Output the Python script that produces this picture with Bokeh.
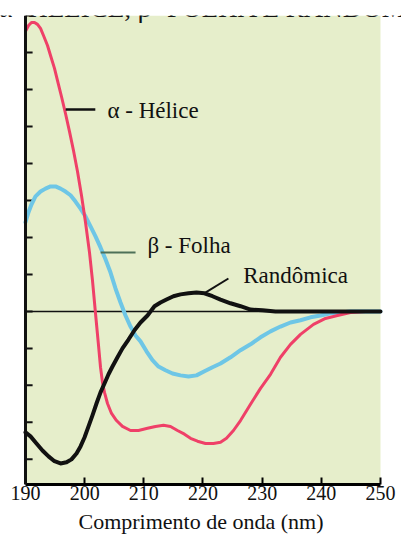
from bokeh.plotting import figure
from bokeh.models import Range1d, FixedTicker, Label, Span, BoxAnnotation
from bokeh.embed import file_html
from bokeh.resources import INLINE

# Circular dichroism spectra of the three secondary structures (wavelength in nm)
helix_wl = [190.00, 190.51, 191.01, 191.52, 192.03, 192.54, 193.04, 193.72, 194.23, 194.90,
            195.41, 196.08, 196.76, 197.44, 198.11, 198.79, 199.46, 200.14, 200.82, 201.32,
            201.83, 202.34, 202.68, 203.01, 203.35, 203.86, 204.54, 205.38, 206.39, 207.75,
            209.10, 210.62, 211.97, 213.32, 214.51, 215.69, 216.87, 217.89, 219.07, 220.42,
            221.77, 222.96, 223.97, 225.15, 226.34, 228.03, 229.72, 231.41, 233.10, 234.79,
            236.48, 238.68, 240.70, 242.73, 244.93, 247.46, 250.00]
helix_cd = [7.57, 7.73, 7.81, 7.81, 7.76, 7.65, 7.46, 7.19, 6.92, 6.57,
            6.24, 5.81, 5.35, 4.86, 4.35, 3.78, 3.14, 2.41, 1.59, 0.84,
            -0.05, -0.92, -1.51, -1.92, -2.19, -2.49, -2.76, -2.95, -3.11, -3.22,
            -3.22, -3.16, -3.11, -3.08, -3.11, -3.22, -3.32, -3.43, -3.51, -3.57,
            -3.57, -3.54, -3.43, -3.22, -2.95, -2.51, -2.08, -1.70, -1.24, -0.89,
            -0.62, -0.35, -0.19, -0.11, -0.03, 0.00, 0.00]

sheet_wl = [190.00, 190.51, 191.01, 191.69, 192.54, 193.38, 194.23, 195.07, 195.92, 196.76,
            197.61, 198.45, 199.30, 200.14, 200.99, 201.83, 202.68, 203.52, 204.37, 205.21,
            206.06, 206.90, 207.75, 208.59, 209.44, 210.45, 211.46, 212.48, 213.66, 214.85,
            216.20, 217.55, 218.90, 220.25, 221.61, 222.96, 224.65, 226.34, 228.03, 229.72,
            231.41, 233.10, 234.79, 236.48, 238.17, 239.86, 241.55, 243.24, 244.93, 250.00]
sheet_cd = [2.41, 2.68, 2.89, 3.11, 3.24, 3.32, 3.38, 3.38, 3.32, 3.24,
            3.14, 2.97, 2.78, 2.57, 2.30, 2.03, 1.73, 1.41, 1.05, 0.62,
            0.24, -0.11, -0.41, -0.65, -0.81, -1.08, -1.32, -1.49, -1.59, -1.68,
            -1.73, -1.76, -1.73, -1.62, -1.51, -1.41, -1.24, -1.05, -0.89, -0.70,
            -0.54, -0.41, -0.30, -0.24, -0.16, -0.11, -0.05, -0.03, 0.00, 0.00]

coil_wl = [190.00, 190.85, 191.86, 192.87, 193.89, 194.90, 195.92, 196.93, 197.77, 198.62,
           199.30, 199.97, 200.65, 201.32, 202.00, 202.68, 203.35, 204.03, 204.70, 205.55,
           206.39, 207.41, 208.42, 209.44, 210.62, 211.80, 212.82, 213.83, 215.01, 216.20,
           217.55, 218.90, 220.25, 221.61, 222.96, 224.65, 226.34, 228.03, 230.06, 232.25,
           234.79, 250.00]
coil_cd = [-3.27, -3.38, -3.57, -3.76, -3.92, -4.05, -4.11, -4.08, -4.00, -3.84,
           -3.65, -3.41, -3.11, -2.81, -2.49, -2.19, -1.95, -1.70, -1.49, -1.24,
           -1.00, -0.76, -0.51, -0.30, -0.11, 0.14, 0.24, 0.32, 0.41, 0.46,
           0.49, 0.51, 0.49, 0.41, 0.32, 0.22, 0.14, 0.05, 0.03, 0.00,
           0.00, 0.00]

x_ticks = [190, 200, 210, 220, 230, 240, 250]
y_ticks = [-4, -3, -2, -1, 0, 1, 2, 3, 4, 5, 6, 7, 8]

SERIF = "Liberation Serif"
INK = "#111111"
X0, X1 = x_ticks[0], x_ticks[-1]
Y0, Y1 = -4.68, y_ticks[-1]

# the frame spans the full width; the tinted panel covers only 190-250 nm
p = figure(width=401, height=537, output_backend="svg", toolbar_location=None,
           x_range=Range1d(185.775, 253.55), y_range=Range1d(Y0, Y1),
           min_border_left=0, min_border_right=0, min_border_top=15,
           min_border_bottom=53)
p.background_fill_color = "white"
p.border_fill_color = "white"
p.outline_line_color = None
p.grid.visible = False
p.add_layout(BoxAnnotation(left=X0, right=X1, bottom=Y0, top=Y1, fill_color="#e6eecb",
                           fill_alpha=1, line_color=None, level="underlay"))

p.xaxis.bounds = (X0, X1)
p.xaxis.ticker = FixedTicker(ticks=x_ticks)
p.xaxis.minor_tick_line_color = None
p.xaxis.major_tick_in = 7
p.xaxis.major_tick_out = 0
p.xaxis.major_tick_line_width = 2
p.xaxis.axis_line_width = 3
p.xaxis.major_label_text_font = SERIF
p.xaxis.major_label_text_font_size = "20px"
p.xaxis.major_label_text_color = INK
p.xaxis.major_label_standoff = 1
p.xaxis.axis_label = "Comprimento de onda (nm)"
p.xaxis.axis_label_text_font = SERIF
p.xaxis.axis_label_text_font_style = "normal"
p.xaxis.axis_label_text_font_size = "22px"
p.xaxis.axis_label_text_color = INK
p.xaxis.axis_label_standoff = 6

# unlabelled ellipticity axis: a heavy line with inward ticks
p.yaxis.visible = False
p.add_layout(Span(location=X0, dimension="height", line_color=INK, line_width=3))
p.segment(x0=[X0] * len(y_ticks), y0=y_ticks, x1=[X0 + 1.2] * len(y_ticks), y1=y_ticks,
          line_color=INK, line_width=2)

# baseline at zero ellipticity
p.segment(x0=[X0], y0=[0], x1=[X1], y1=[0], line_color=INK, line_width=1.5)

p.line(sheet_wl, sheet_cd, line_color="#6ec6e6", line_width=4, line_join="round", line_cap="round")
p.line(helix_wl, helix_cd, line_color="#ef4068", line_width=3, line_join="round", line_cap="round")
p.line(coil_wl, coil_cd, line_color=INK, line_width=4, line_join="round", line_cap="round")

# curve annotations
p.line([196.8, 201.8], [5.46, 5.46], line_color=INK, line_width=2.5)
p.add_layout(Label(x=203.85, y=5.43, text="α - Hélice", text_font=SERIF,
                   text_font_size="23px", text_baseline="middle", text_color=INK))
p.line([202.7, 208.6], [1.59, 1.59], line_color="#4d7058", line_width=2)
p.add_layout(Label(x=210.6, y=1.78, text="β - Folha", text_font=SERIF,
                   text_font_size="23px", text_baseline="middle", text_color=INK))
p.line([220.4, 224.3], [0.51, 0.89], line_color=INK, line_width=2)
p.add_layout(Label(x=226.8, y=0.97, text="Randômica", text_font=SERIF,
                   text_font_size="23px", text_baseline="middle", text_color=INK))

# heading above the plot
p.add_layout(Label(x=185.4, y=8.19, text="α- HÉLICE, β- FOLHA E RANDÔMICA", text_font=SERIF,
                   text_font_size="27px", text_baseline="alphabetic", text_color=INK))

open("out.html", "w").write(file_html(p, INLINE))
